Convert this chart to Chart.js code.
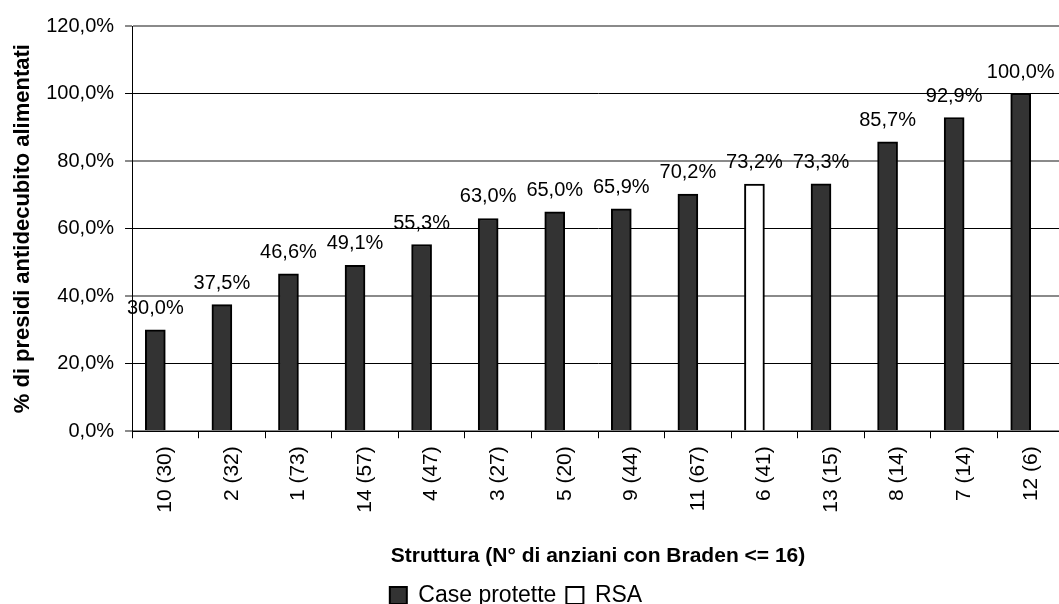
<!DOCTYPE html>
<html>
<head>
<meta charset="utf-8">
<script src="https://cdn.jsdelivr.net/npm/chart.js@4"></script>
<style>
  html, body { margin: 0; padding: 0; background: #fff; overflow: hidden; }
  #wrap { position: relative; width: 1066px; height: 617px; }
</style>
</head>
<body>
<div id="wrap"><canvas id="myChart"></canvas></div>
<script>
"use strict";

// strutture (n° di anziani con Braden <= 16)
const strutture = ["10 (30)", "2 (32)", "1 (73)", "14 (57)", "4 (47)", "3 (27)", "5 (20)",
  "9 (44)", "11 (67)", "6 (41)", "13 (15)", "8 (14)", "7 (14)", "12 (6)"];
const caseProtette = [30.0, 37.5, 46.6, 49.1, 55.3, 63.0, 65.0, 65.9, 70.2, null, 73.3, 85.7, 92.9, 100.0];
const rsa = [null, null, null, null, null, null, null, null, null, 73.2, null, null, null, null];
const yTicks = [0, 20, 40, 60, 80, 100, 120];

const FONT = '"Liberation Sans", Arial, sans-serif';
Chart.defaults.font.family = FONT;
Chart.defaults.color = "#000";

function percento(v) {
  return v.toFixed(1).replace(".", ",") + "%";
}

// etichette sopra le barre
const etichette = {
  id: "etichette",
  afterDatasetsDraw(chart) {
    const ctx = chart.ctx;
    ctx.save();
    ctx.font = "20px " + FONT;
    ctx.fillStyle = "#000";
    ctx.textAlign = "center";
    ctx.textBaseline = "alphabetic";
    chart.data.datasets.forEach((ds, i) => {
      const meta = chart.getDatasetMeta(i);
      meta.data.forEach((bar, j) => {
        const v = ds.data[j];
        if (v === null || v === undefined) return;
        ctx.fillText(percento(v), bar.x, bar.y - 16);
      });
    });
    ctx.restore();
  },
};

// sposta la legenda un po' a sinistra
const spostaLegenda = {
  id: "spostaLegenda",
  afterLayout(chart) {
    if (chart.legend) {
      chart.legend.left -= 16;
      chart.legend.right -= 16;
    }
  },
};

const data = {
  labels: strutture,
  datasets: [
    {
      label: "Case protette",
      data: caseProtette,
      stack: "a",
      backgroundColor: "#333333",
      borderColor: "#000",
      borderWidth: 2,
    },
    {
      label: "RSA",
      data: rsa,
      stack: "a",
      backgroundColor: "#ffffff",
      borderColor: "#000",
      borderWidth: 2,
    },
    {
      label: "",
      data: [],
      stack: "b",
    },
  ],
};

const config = {
  type: "bar",
  data: data,
  plugins: [etichette, spostaLegenda],
  options: {
    responsive: true,
    maintainAspectRatio: false,
    animation: false,
    barThickness: 20,
    layout: { padding: { top: 26, right: 2, bottom: 0, left: 0 } },
    plugins: {
      tooltip: { enabled: false },
      legend: {
        position: "bottom",
        labels: {
          filter: (item) => item.text !== "",
          boxWidth: 17,
          boxHeight: 17,
          padding: 10,
          font: { size: 23 },
          color: "#000",
        },
      },
    },
    scales: {
      x: {
        grid: {
          drawOnChartArea: false,
          drawTicks: true,
          tickLength: 7,
          color: "#000",
        },
        border: { color: "#000", width: 1 },
        ticks: {
          minRotation: 90,
          maxRotation: 90,
          padding: 8,
          font: { size: 21 },
          color: "#000",
        },
        title: {
          display: true,
          text: "Struttura (N° di anziani con Braden <= 16)",
          font: { size: 21, weight: "bold" },
          color: "#000",
          padding: { top: 23, bottom: 5 },
        },
      },
      y: {
        min: 0,
        max: 120,
        afterBuildTicks: (axis) => {
          axis.ticks = yTicks.map((v) => ({ value: v }));
        },
        grid: {
          tickLength: 7,
          color: (ctx) => (ctx.index % 2 === 0 ? "#8a8a8a" : "#000"),
          lineWidth: (ctx) => (ctx.index % 2 === 0 ? 2 : 1),
        },
        border: { color: "#000", width: 1 },
        ticks: {
          padding: 11,
          font: { size: 20 },
          color: "#000",
          callback: (v) => percento(v),
        },
        title: {
          display: true,
          text: "% di presidi antidecubito alimentati",
          font: { size: 22, weight: "bold", lineHeight: 1 },
          color: "#000",
          padding: { top: 12, bottom: 1.2 },
        },
      },
    },
  },
};

const canvasChart = document.getElementById("myChart");
new Chart(canvasChart, config);
</script>
</body>
</html>
